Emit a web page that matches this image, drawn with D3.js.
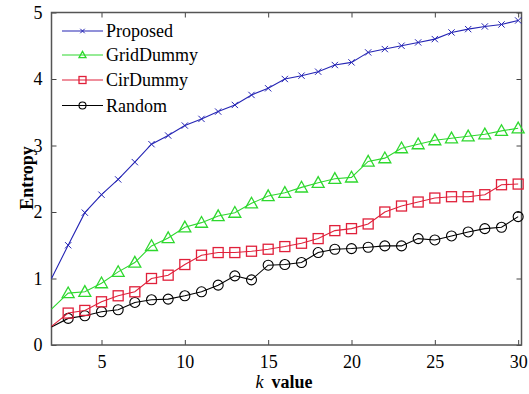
<!DOCTYPE html>
<html>
<head>
<meta charset="utf-8">
<script src="https://cdn.jsdelivr.net/npm/d3@7"></script>
<style>
  body { margin: 0; background: #fff; }
  svg, svg text { font-family: "Liberation Serif", "DejaVu Serif", serif !important; }
</style>
</head>
<body>
<div id="chart"></div>
<script>
// values, k = 2 .. 30
var kValues = d3.range(2, 31);
var seriesNames = ["Proposed", "GridDummy", "CirDummy", "Random"];
var proposed = [1.00, 1.50, 1.99, 2.26, 2.49, 2.75, 3.02, 3.15, 3.30, 3.40, 3.51, 3.61, 3.76, 3.86, 4.00,
                4.05, 4.11, 4.21, 4.25, 4.40, 4.45, 4.50, 4.55, 4.60, 4.70, 4.75, 4.79, 4.82, 4.88];
var gridDummy = [0.54, 0.78, 0.80, 0.93, 1.10, 1.24, 1.49, 1.61, 1.77, 1.84, 1.94, 1.99, 2.13, 2.24, 2.29,
                 2.37, 2.44, 2.50, 2.52, 2.76, 2.81, 2.96, 3.02, 3.08, 3.11, 3.14, 3.17, 3.22, 3.26];
var cirDummy = [0.28, 0.48, 0.52, 0.65, 0.74, 0.80, 1.00, 1.05, 1.21, 1.35, 1.39, 1.39, 1.41, 1.44, 1.48,
                1.53, 1.60, 1.72, 1.75, 1.82, 2.00, 2.09, 2.15, 2.21, 2.23, 2.23, 2.26, 2.41, 2.42];
var random = [0.27, 0.40, 0.44, 0.50, 0.53, 0.64, 0.68, 0.69, 0.74, 0.80, 0.90, 1.04, 0.98, 1.20, 1.21,
              1.24, 1.39, 1.44, 1.45, 1.47, 1.49, 1.49, 1.60, 1.58, 1.64, 1.70, 1.75, 1.77, 1.93];
var xTicks = [5, 10, 15, 20, 25, 30];
var yTicks = [0, 1, 2, 3, 4, 5];

var width = 529;
var height = 394;
var plot = {left: 51.5, right: 521.5, top: 12.5, bottom: 345};
var colors = ["#2424b4", "#2ed82e", "#e0203a", "#000000"];
var markers = ["cross", "triangle", "square", "circle"];
var allSeries = [proposed, gridDummy, cirDummy, random];
var serif = "Liberation Serif";

var svg = d3.select("#chart")
            .append("svg")
            .attr("width", width)
            .attr("height", height)
            .attr("font-family", serif);

var xScale = d3.scaleLinear()
               .domain([2, 30.2])
               .range([plot.left, plot.right]);
var yScale = d3.scaleLinear()
               .domain([0, 5])
               .range([plot.bottom, plot.top]);

// axes, matlab style: ticks pointing inwards on all four sides
var xAxis = d3.axisBottom(xScale).tickValues(xTicks).tickFormat(d3.format("d"))
              .tickSizeInner(-5).tickSizeOuter(0).tickPadding(10);
var yAxis = d3.axisLeft(yScale).tickValues(yTicks).tickFormat(d3.format("d"))
              .tickSizeInner(-5).tickSizeOuter(0).tickPadding(9);

svg.append("g")
   .attr("transform", "translate(0," + plot.bottom + ")")
   .call(xAxis);
svg.append("g")
   .attr("transform", "translate(" + plot.left + ",0)")
   .call(yAxis);

svg.append("g")
   .attr("transform", "translate(0," + plot.top + ")")
   .call(d3.axisTop(xScale).tickValues(xTicks).tickSizeInner(-5).tickSizeOuter(0).tickFormat(""));
svg.append("g")
   .attr("transform", "translate(" + plot.right + ",0)")
   .call(d3.axisRight(yScale).tickValues(yTicks).tickSizeInner(-5).tickSizeOuter(0).tickFormat(""));

svg.selectAll(".domain").remove();
svg.selectAll("g").attr("font-family", null);
svg.selectAll(".tick line").attr("stroke", "#444");
svg.selectAll(".tick text")
   .attr("font-size", "18px")
   .attr("fill", "#000");

svg.append("rect")
   .attr("x", plot.left)
   .attr("y", plot.top)
   .attr("width", plot.right - plot.left)
   .attr("height", plot.bottom - plot.top)
   .attr("fill", "none")
   .attr("stroke", "#555")
   .attr("stroke-width", 1.5);

// axis titles
svg.append("text")
   .attr("transform", "rotate(-90)")
   .attr("x", -178)
   .attr("y", 33)
   .attr("text-anchor", "middle")
   .attr("font-size", "18px")
   .attr("font-weight", "bold")
   .text("Entropy");

var xTitle = svg.append("text")
   .attr("x", 284)
   .attr("y", 388)
   .attr("text-anchor", "middle")
   .attr("font-size", "18px");
xTitle.append("tspan").attr("font-style", "italic").text("k");
xTitle.append("tspan").attr("dx", 8).attr("font-weight", "bold").text("value");

function drawMarker(g, type, x, y, color, size) {
  if (type == "cross") {
    var s = size * 0.45;
    g.append("path")
     .attr("d", "M" + (x - s) + "," + (y - s) + "L" + (x + s) + "," + (y + s) +
                "M" + (x - s) + "," + (y + s) + "L" + (x + s) + "," + (y - s))
     .attr("stroke", color).attr("fill", "none");
  } else if (type == "triangle") {
    var h = size * 0.85;
    g.append("path")
     .attr("d", "M" + x + "," + (y - h * 0.6) + "L" + (x + size / 2) + "," + (y + h * 0.45) +
                "L" + (x - size / 2) + "," + (y + h * 0.45) + "Z")
     .attr("stroke", color).attr("fill", "none").attr("stroke-width", 1.3);
  } else if (type == "square") {
    g.append("rect")
     .attr("x", x - size / 2).attr("y", y - size / 2)
     .attr("width", size).attr("height", size)
     .attr("stroke", color).attr("fill", "none").attr("stroke-width", 1.3);
  } else {
    g.append("circle")
     .attr("cx", x).attr("cy", y).attr("r", size / 2)
     .attr("stroke", color).attr("fill", "none").attr("stroke-width", 1.1);
  }
}

var line = d3.line()
             .x(function(d){ return xScale(d.k); })
             .y(function(d){ return yScale(d.v); });

for (var i = allSeries.length - 1; i >= 0; i--) {
  var data = kValues.map(function(k, j){ return {k: k, v: allSeries[i][j]}; });
  var g = svg.append("g");
  g.append("path")
   .datum(data)
   .attr("d", line)
   .attr("fill", "none")
   .attr("stroke", colors[i])
   .attr("stroke-width", 1.1);
  var size = markers[i] == "cross" ? 7 : (markers[i] == "triangle" ? 12 : 10);
  data.slice(1).forEach(function(d){
    drawMarker(g, markers[i], xScale(d.k), yScale(d.v), colors[i], size);
  });
}

// legend, no box
var legendRows = [31, 55, 80, 105.5];
seriesNames.forEach(function(name, i){
  var lg = svg.append("g");
  lg.append("line")
    .attr("x1", 62).attr("x2", 103)
    .attr("y1", legendRows[i]).attr("y2", legendRows[i])
    .attr("stroke", colors[i]).attr("stroke-width", 1.1);
  drawMarker(lg, markers[i], 82.5, legendRows[i], colors[i], markers[i] == "cross" ? 5 : 7);
  lg.append("text")
    .attr("x", 106)
    .attr("y", legendRows[i] + 6)
    .attr("font-size", "18px")
    .text(name);
});
</script>
</body>
</html>
